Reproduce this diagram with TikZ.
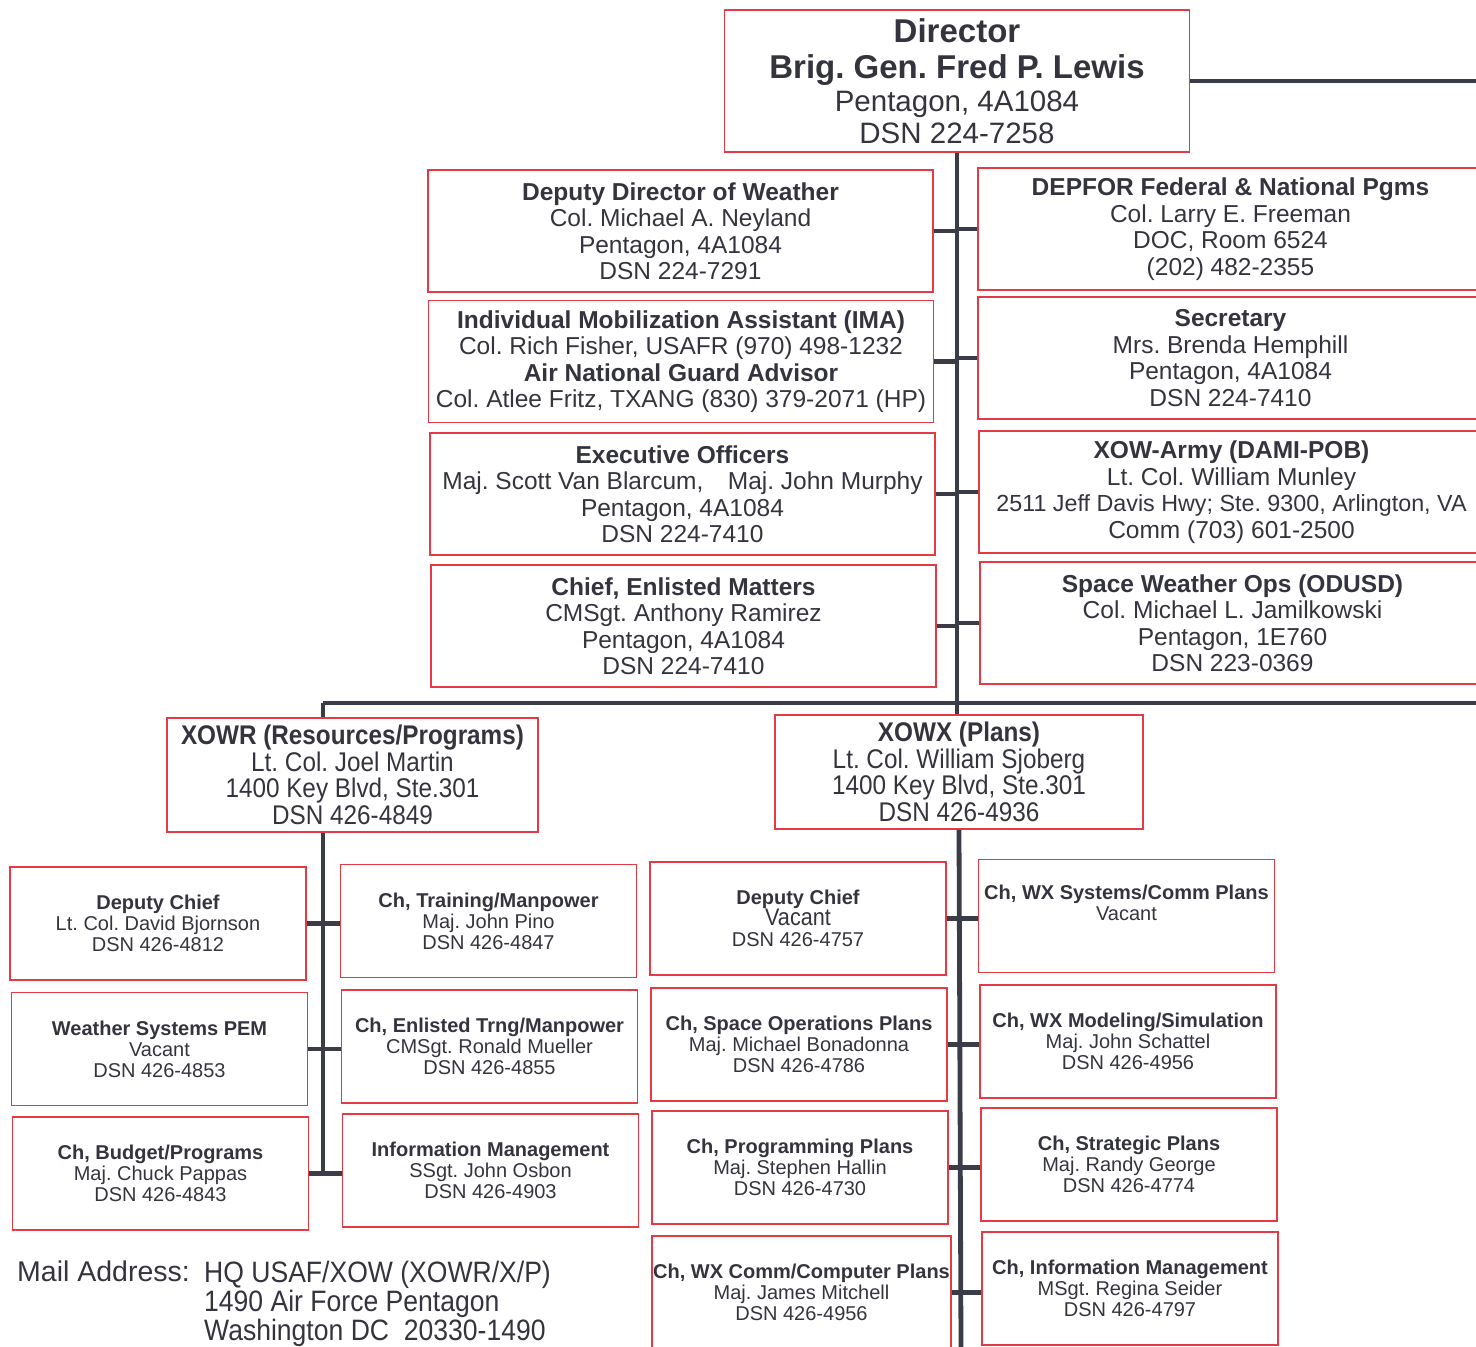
\documentclass[tikz,border=0pt]{standalone}
\usepackage{fontspec}
\setmainfont{Liberation Sans}
\newfontfamily\narrowfont{Liberation Sans}[FakeStretch=0.9]
\usetikzlibrary{positioning}
\frenchspacing

\definecolor{boxred}{RGB}{228,58,68}
\definecolor{linkgray}{RGB}{58,60,72}
\definecolor{txtgray}{RGB}{52,52,62}

\begin{document}
\begin{tikzpicture}[x=1pt,y=-1pt,
	every node/.style={align=center,text=txtgray,inner sep=1pt},
	box/.style={draw=boxred,line width=1.6pt},
	headbox/.style={box,minimum width=465pt,minimum height=142pt,font=\fontsize{29.5}{32.5}\selectfont},
	staffbox/.style={box,minimum width=505pt,minimum height=122pt,font=\fontsize{24.5}{26.5}\selectfont},
	unitbox/.style={box,minimum height=114pt,font=\narrowfont\fontsize{27}{26.5}\selectfont},
	officebox/.style={box,minimum width=296pt,minimum height=113pt,font=\fontsize{20}{21}\selectfont},
	link/.style={draw=linkgray,line width=4.8pt}]
	\useasboundingbox (0,0) rectangle (1476,1347);
	\clip (0,0) rectangle (1476,1347);

	% director and staff
	\node[headbox] (director) at (957,81) {{\fontsize{33}{35}\selectfont\bfseries Director}\\[4pt]{\fontsize{33}{35}\selectfont\bfseries Brig. Gen. Fred P. Lewis}\\Pentagon, 4A1084\\DSN 224-7258};
	\node[staffbox] (depdir) at (680.5,231) {\textbf{Deputy Director of Weather}\\Col. Michael A. Neyland\\Pentagon, 4A1084\\DSN 224-7291};
	\node[staffbox] (ima) at (681,361.5) {\textbf{Individual Mobilization Assistant (IMA)}\\Col. Rich Fisher, USAFR (970) 498-1232\\\textbf{Air National Guard Advisor}\\Col. Atlee Fritz, TXANG (830) 379-2071 (HP)};
	\node[staffbox] (exec) at (682.5,494) {\textbf{Executive Officers}\\Maj. Scott Van Blarcum,\quad Maj. John Murphy\\Pentagon, 4A1084\\DSN 224-7410};
	\node[staffbox] (cem) at (683.5,626) {\textbf{Chief, Enlisted Matters}\\CMSgt. Anthony Ramirez\\Pentagon, 4A1084\\DSN 224-7410};
	\node[staffbox] (depfor) at (1230.5,229) {\textbf{DEPFOR Federal \& National Pgms}\\Col. Larry E. Freeman\\DOC, Room 6524\\(202) 482-2355};
	\node[staffbox] (secr) at (1230.5,358) {\textbf{Secretary}\\Mrs. Brenda Hemphill\\Pentagon, 4A1084\\DSN 224-7410};
	\node[staffbox] (army) at (1231.5,492) {\textbf{XOW-Army (DAMI-POB)}\\Lt. Col. William Munley\\{\fontsize{23.3}{26.5}\selectfont 2511 Jeff Davis Hwy; Ste. 9300, Arlington, VA}\\Comm (703) 601-2500};
	\node[staffbox] (swops) at (1232.5,623) {\textbf{Space Weather Ops (ODUSD)}\\Col. Michael L. Jamilkowski\\Pentagon, 1E760\\DSN 223-0369};

	% divisions
	\node[unitbox,minimum width=371pt] (xowr) at (352.5,775) {\textbf{XOWR (Resources/Programs)}\\Lt. Col. Joel Martin\\1400 Key Blvd, Ste.301\\DSN 426-4849};
	\node[unitbox,minimum width=368pt] (xowx) at (959,772) {\textbf{XOWX (Plans)}\\Lt. Col. William Sjoberg\\1400 Key Blvd, Ste.301\\DSN 426-4936};

	% XOWR branches
	\node[officebox] (dchiefr) at (158,923.5) {\textbf{Deputy Chief}\\Lt. Col. David Bjornson\\DSN 426-4812};
	\node[officebox] (wxpem) at (159.5,1049) {\textbf{Weather Systems PEM}\\Vacant\\DSN 426-4853};
	\node[officebox] (budget) at (160.5,1173.5) {\textbf{Ch, Budget/Programs}\\Maj. Chuck Pappas\\DSN 426-4843};
	\node[officebox] (trainmp) at (488.5,921) {\textbf{Ch, Training/Manpower}\\Maj. John Pino\\DSN 426-4847};
	\node[officebox] (enltrng) at (489.5,1046.5) {\textbf{Ch, Enlisted Trng/Manpower}\\CMSgt. Ronald Mueller\\DSN 426-4855};
	\node[officebox] (infomgt) at (490.5,1170.5) {\textbf{Information Management}\\SSgt. John Osbon\\DSN 426-4903};

	% XOWX branches
	\node[officebox] (dchiefx) at (798,918.5) {\textbf{Deputy Chief}\\{\narrowfont\fontsize{24}{21}\selectfont Vacant}\\DSN 426-4757};
	\node[officebox] (spaceops) at (799,1044.5) {\textbf{Ch, Space Operations Plans}\\Maj. Michael Bonadonna\\DSN 426-4786};
	\node[officebox] (progplans) at (800,1167.5) {\textbf{Ch, Programming Plans}\\Maj. Stephen Hallin\\DSN 426-4730};
	\node[officebox] (commplans) at (801.5,1292.5) {\textbf{Ch, WX Comm/Computer Plans}\\Maj. James Mitchell\\DSN 426-4956};
	\node[officebox] (syscomm) at (1126.5,916) {\textbf{Ch, WX Systems/Comm Plans}\\Vacant\\\strut};
	\node[officebox] (modsim) at (1128,1041.5) {\textbf{Ch, WX Modeling/Simulation}\\Maj. John Schattel\\DSN 426-4956};
	\node[officebox] (stratplans) at (1129,1164.5) {\textbf{Ch, Strategic Plans}\\Maj. Randy George\\DSN 426-4774};
	\node[officebox] (infomgtx) at (1130,1288.5) {\textbf{Ch, Information Management}\\MSgt. Regina Seider\\DSN 426-4797};

	% mail address
	\node[anchor=north west,font=\fontsize{28.5}{29}\selectfont] (maillbl) at (16,1260) {Mail Address:};
	\node[anchor=north west,align=left,font=\narrowfont\fontsize{29.5}{29}\selectfont] (mailaddr) at (203,1260) {HQ USAF/XOW (XOWR/X/P)\\1490 Air Force Pentagon\\Washington DC\ \ 20330-1490};

	% connectors
	\coordinate (dirR) at (1476,81);
	\coordinate (rtop) at (323,703);
	\coordinate (barR) at (1476,703);
	\coordinate (xbot) at (961,1347);
	\draw[link] (director.east) -- (dirR);
	\draw[link] (director.south) -- (director.south |- xowx.north);
	\draw[link] (rtop) -- (barR);
	\draw[link] (rtop) -- (rtop |- xowr.north);
	\draw[link] (rtop |- xowr.south) -- (rtop |- budget.east);
	\draw[link] (xowx.south) -- (xbot);
	\foreach \b in {depdir,ima,exec,cem}
		\draw[link] (\b.east) -- (\b.east -| director.south);
	\foreach \b in {depfor,secr,army,swops}
		\draw[link] (\b.west) -- (\b.west -| director.south);
	\foreach \l/\r in {dchiefr/trainmp,wxpem/enltrng,budget/infomgt,dchiefx/syscomm,spaceops/modsim,progplans/stratplans,commplans/infomgtx}
		\draw[link] (\l.east) -- (\l.east -| \r.west);
\end{tikzpicture}
\end{document}
